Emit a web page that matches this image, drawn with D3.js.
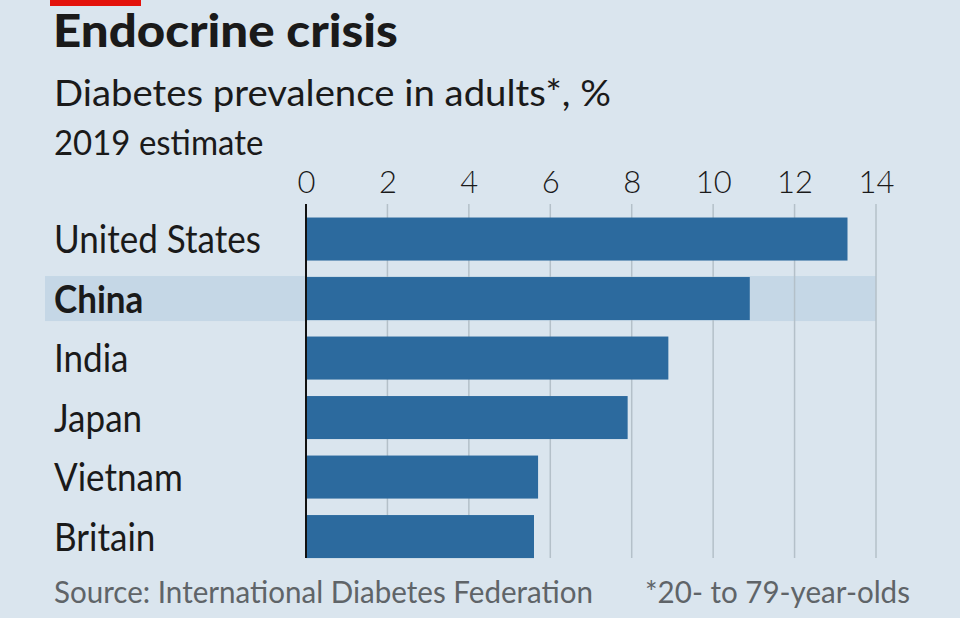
<!DOCTYPE html>
<html><head><meta charset="utf-8">
<script src="https://cdn.jsdelivr.net/npm/d3@7"></script>
<style>
html,body{margin:0;padding:0;background:#dae5ee;}
svg{display:block;}
</style></head>
<body>
<script>
const countries = ["United States","China","India","Japan","Vietnam","Britain"];
const values = [13.3, 10.9, 8.9, 7.9, 5.7, 5.6];
const tickValues = [0,2,4,6,8,10,12,14];
const highlight = "China";
const title = "Endocrine crisis";
const subtitle = "Diabetes prevalence in adults*, %";
const subtitle2 = "2019 estimate";
const source = "Source: International Diabetes Federation";
const footnote = "*20- to 79-year-olds";

const W = 960, H = 618;
const svg = d3.select("body").append("svg").attr("width",W).attr("height",H);
svg.append("rect").attr("width",W).attr("height",H).attr("fill","#dae5ee");

const font = "Lato, 'Open Sans', sans-serif";

// text helper with horizontal scaling
function txt(x, y, s, size, opts={}) {
  const g = svg.append("g").attr("transform",`translate(${x},${y}) scale(${opts.sx||1},1)`);
  return g.append("text").attr("x",0).attr("y",0).text(s)
    .attr("font-family",font).attr("font-size",size)
    .attr("font-weight",opts.w||400).attr("fill",opts.fill||"#1a1a1a")
    .attr("text-anchor",opts.anchor||"start")
    .attr("letter-spacing",opts.ls||0);
}

svg.append("rect").attr("x",50).attr("y",0).attr("width",91).attr("height",6).attr("fill","#e3120b");
txt(53, 47, title, 46, {w:900, sx:1.07});
txt(54, 106, subtitle, 36.5, {sx:1.05});
txt(54, 155, subtitle2, 34, {sx:0.97});

const x = d3.scaleLinear().domain([0,14]).range([306,876]);
const y = d3.scaleBand().domain(countries).range([208.6,567]).paddingInner(0.277).paddingOuter(0.15);

// highlight band
svg.append("rect").attr("x",45).attr("width",x(14)-45)
  .attr("y",y(highlight)-1).attr("height",y.bandwidth()+2).attr("fill","#c5d7e6");

// gridlines
svg.append("g").selectAll("line").data(tickValues.filter(d=>d>0)).join("line")
  .attr("x1",d=>x(d)).attr("x2",d=>x(d)).attr("y1",204).attr("y2",558)
  .attr("stroke","#b4c0c9").attr("stroke-width",1.5);

// ticks via axis
const axis = d3.axisTop(x).tickValues(tickValues).tickSize(0).tickPadding(0).tickFormat(d3.format("d"));
const gA = svg.append("g").attr("transform","translate(0,193)").call(axis);
gA.select(".domain").remove();
gA.selectAll("text").attr("font-family",font).attr("font-size",31).attr("font-weight",300)
  .attr("fill","#1a1a1a").attr("dy",0);

// bars
svg.append("g").selectAll("rect").data(countries).join("rect")
  .attr("x",x(0)).attr("y",d=>y(d)).attr("height",y.bandwidth())
  .attr("width",(d,i)=>x(values[i])-x(0)).attr("fill","#2c6a9e");

// zero line
svg.append("line").attr("x1",x(0)).attr("x2",x(0)).attr("y1",204).attr("y2",558)
  .attr("stroke","#111").attr("stroke-width",2);

// labels
countries.forEach(c => {
  txt(54, y(c)+y.bandwidth()/2+14, c, 38.5, {sx:0.91, w: c===highlight?700:400});
});

txt(54, 603, source, 30.5, {fill:"#5f6468", sx:0.97});
txt(910, 603, footnote, 30.5, {fill:"#5f6468", anchor:"end", sx:0.97});
</script>
</body></html>
